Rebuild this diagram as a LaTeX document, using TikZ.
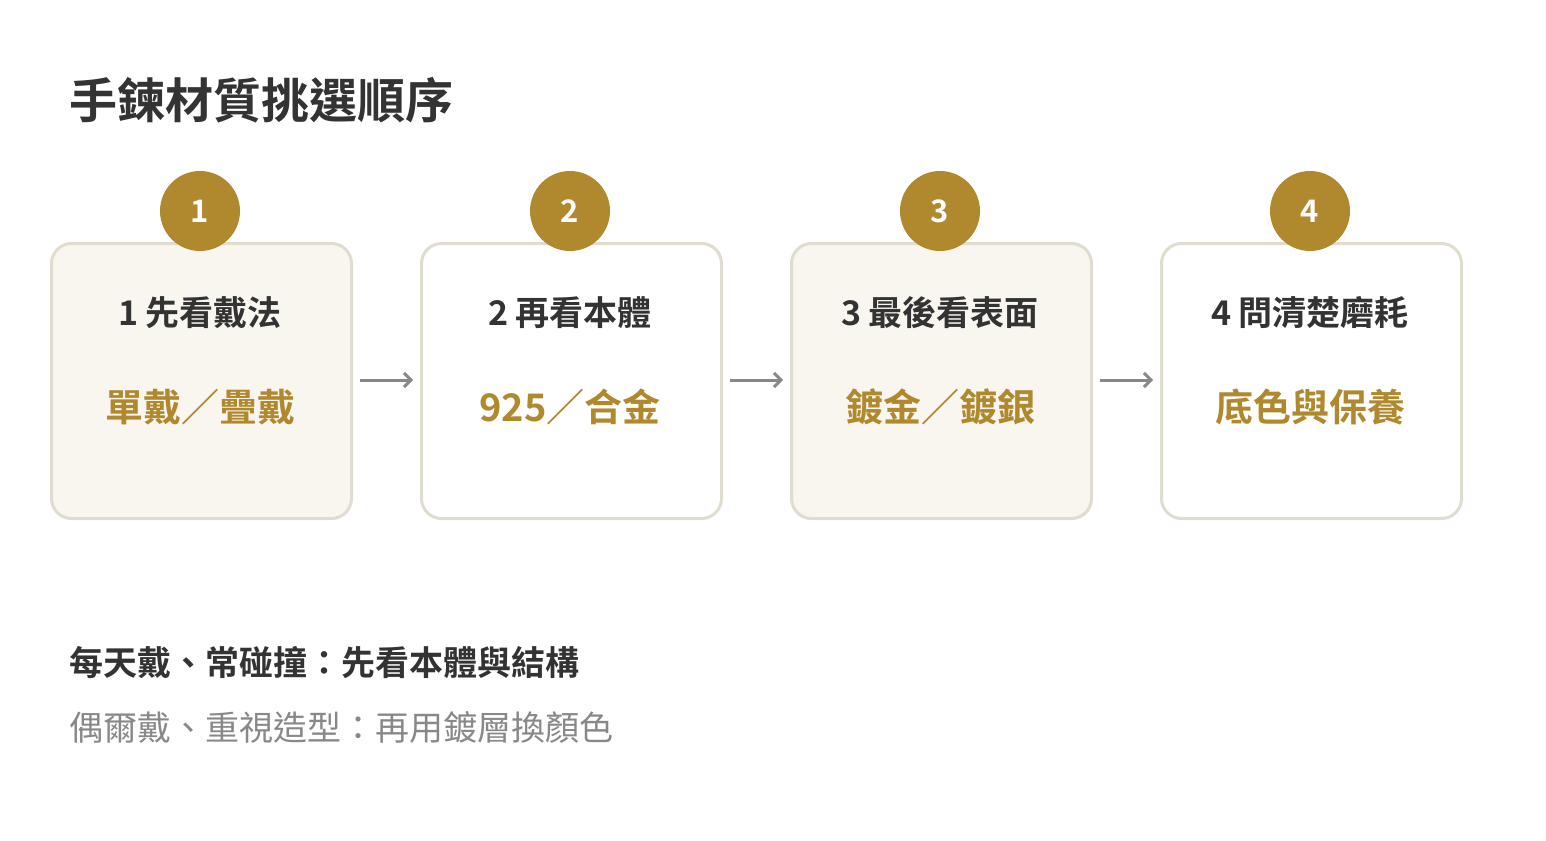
\documentclass[tikz,border=0pt]{standalone}
\usetikzlibrary{arrows.meta}
\usepackage{fontspec}
\setmainfont{Noto Sans CJK TC}[BoldFont={Noto Sans CJK TC Bold}]
\definecolor{gold}{HTML}{B0892E}
\definecolor{bord}{HTML}{E0DCD0}
\definecolor{cream}{HTML}{F9F6EF}
\definecolor{dark}{HTML}{333333}
\definecolor{gry}{HTML}{888888}
\begin{document}
\begin{tikzpicture}[x=1pt,y=-1pt,
 box/.style={draw=bord,line width=3pt,rounded corners=20pt,minimum width=300pt,minimum height=275pt,anchor=north west,inner sep=0pt},
 num/.style={circle,fill=gold,minimum size=80pt,text=white,font=\fontsize{31}{31}\selectfont\bfseries,inner sep=0pt},
 ttl/.style={text=dark,font=\fontsize{34}{34}\selectfont\bfseries},
 sub/.style={text=gold,font=\fontsize{38}{38}\selectfont\bfseries},
 arr/.style={draw=gry,line width=3pt,-{Straight Barb[length=7pt,width=14pt]}}]
\useasboundingbox (0,0) rectangle (1546,840);
\node[anchor=west,text=dark,font=\fontsize{48}{48}\selectfont\bfseries] (title) at (66,100) {手鍊材質挑選順序};
\foreach \i/\x/\f/\t/\s in {1/50/cream/1 先看戴法/單戴／疊戴, 2/420/white/2 再看本體/925／合金, 3/790/cream/3 最後看表面/鍍金／鍍銀, 4/1160/white/4 問清楚磨耗/底色與保養}{
  \node[box,fill=\f] (b\i) at (\x,242) {};
  \node[num] (n\i) at (\x+150,211) {\i};
  \node[ttl] (t\i) at (\x+150,313) {\t};
  \node[sub] (s\i) at (\x+150,407) {\s};
}
\foreach \a/\b in {1/2,2/3,3/4}{
  \coordinate (p\a) at ([xshift=7pt]b\a.east|-0,380);
  \coordinate (q\a) at ([xshift=-7pt]b\b.west|-0,380);
  \draw[arr] (p\a) -- (q\a);
}
\node[anchor=west,text=dark,font=\fontsize{34}{34}\selectfont\bfseries] (l1) at (66,663) {每天戴、常碰撞：先看本體與結構};
\node[anchor=west,text=gry,font=\fontsize{34}{34}\selectfont] (l2) at (66,727) {偶爾戴、重視造型：再用鍍層換顏色};
\end{tikzpicture}
\end{document}
